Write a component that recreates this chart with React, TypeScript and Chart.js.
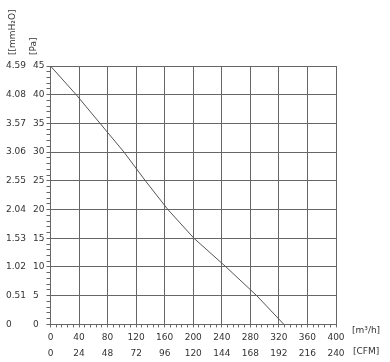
import React, { useEffect, useRef } from "react";
import { Chart, registerables } from "chart.js";

Chart.register(...registerables);

const FLOW_M3H = [0, 36, 69.5, 103, 133, 164.5, 201, 246, 289, 327];
const PRESSURE_PA = [45, 40, 35, 30, 25, 20, 15, 10, 5, 0];

const X_LABELS_M3H = ["0", "40", "80", "120", "160", "200", "240", "280", "320", "360", "400"];
const X_LABELS_CFM = ["0", "24", "48", "72", "96", "120", "144", "168", "192", "216", "240"];
const Y_LABELS_PA = ["0", "5", "10", "15", "20", "25", "30", "35", "40", "45"];
const Y_LABELS_MMH2O = ["0", "0.51", "1.02", "1.53", "2.04", "2.55", "3.06", "3.57", "4.08", "4.59"];

const FONT = { family: "'DejaVu Sans', Verdana, sans-serif", size: 9 };
const TEXT = "#333";
const GRID = "#666";

const titlesPlugin = {
  id: "titles",
  afterDraw(chart: any) {
    const ctx = chart.ctx;
    ctx.save();
    ctx.font = `9px ${FONT.family}`;
    ctx.fillStyle = TEXT;
    ctx.textAlign = "left";
    ctx.textBaseline = "alphabetic";
    ctx.save();
    ctx.translate(15, 55);
    ctx.rotate(-Math.PI / 2);
    ctx.fillText("[[mmH₂O]", 0, 0);
    ctx.restore();
    ctx.save();
    ctx.translate(36, 55);
    ctx.rotate(-Math.PI / 2);
    ctx.fillText("[Pa]", 0, 0);
    ctx.restore();
    ctx.textBaseline = "middle";
    ctx.fillText("[m³/h]", 352, 331);
    ctx.fillText("[CFM]", 353, 352);
    ctx.restore();
  },
};

export default function App() {
  const ref = useRef<HTMLCanvasElement>(null);
  useEffect(() => {
    if (!ref.current) return;
    const points = FLOW_M3H.map((x, i) => ({ x, y: PRESSURE_PA[i] }));
    const chart = new Chart(ref.current, {
      type: "scatter",
      data: {
        datasets: [
          {
            data: points,
            showLine: true,
            borderColor: "#555",
            borderWidth: 1,
            pointRadius: 0,
            tension: 0,
          },
        ],
      },
      options: {
        animation: false,
        responsive: true,
        maintainAspectRatio: false,
        layout: { padding: { left: 6, right: 54, top: 66, bottom: 1 } },
        plugins: { legend: { display: false }, tooltip: { enabled: false } },
        scales: {
          x: {
            type: "linear",
            position: "bottom",
            weight: 0,
            min: 0,
            max: 400,
            grid: {
              color: (c: any) => (c.tick && c.tick.value % 40 === 0 ? GRID : "rgba(0,0,0,0)"),
              tickColor: GRID,
              tickLength: 3,
            },
            border: { color: GRID },
            ticks: {
              stepSize: 8,
              autoSkip: false,
              maxRotation: 0,
              padding: 4.5,
              color: TEXT,
              font: FONT,
              callback: (v: any) => (v % 40 === 0 ? X_LABELS_M3H[v / 40] : ""),
            },
          },
          x2: {
            type: "linear",
            position: "bottom",
            weight: 1,
            min: 0,
            max: 400,
            grid: { display: false, drawTicks: false },
            border: { display: false },
            ticks: {
              stepSize: 40,
              autoSkip: false,
              maxRotation: 0,
              padding: 1.5,
              color: TEXT,
              font: FONT,
              callback: (v: any, i: number) => X_LABELS_CFM[i],
            },
          },
          y: {
            type: "linear",
            position: "left",
            weight: 0,
            min: 0,
            max: 45,
            grid: {
              color: (c: any) => (c.tick && c.tick.value % 5 === 0 ? GRID : "rgba(0,0,0,0)"),
              tickColor: GRID,
              tickLength: 4,
            },
            border: { color: GRID },
            ticks: {
              stepSize: 1,
              autoSkip: false,
              padding: 1,
              crossAlign: "far",
              color: TEXT,
              font: FONT,
              callback: (v: any) => (v % 5 === 0 ? Y_LABELS_PA[v / 5] : ""),
            },
          },
          y2: {
            type: "linear",
            position: "left",
            weight: 1,
            min: 0,
            max: 45,
            grid: { display: false, drawTicks: false },
            border: { display: false },
            ticks: {
              stepSize: 5,
              autoSkip: false,
              padding: 3.5,
              crossAlign: "far",
              color: TEXT,
              font: FONT,
              callback: (v: any, i: number) => Y_LABELS_MMH2O[i],
            },
          },
        },
      } as any,
      plugins: [titlesPlugin],
    });
    return () => chart.destroy();
  }, []);
  return (
    <div style={{ position: "fixed", left: 0, top: 0, width: 390, height: 362, background: "#fff" }}>
      <canvas ref={ref} />
    </div>
  );
}
